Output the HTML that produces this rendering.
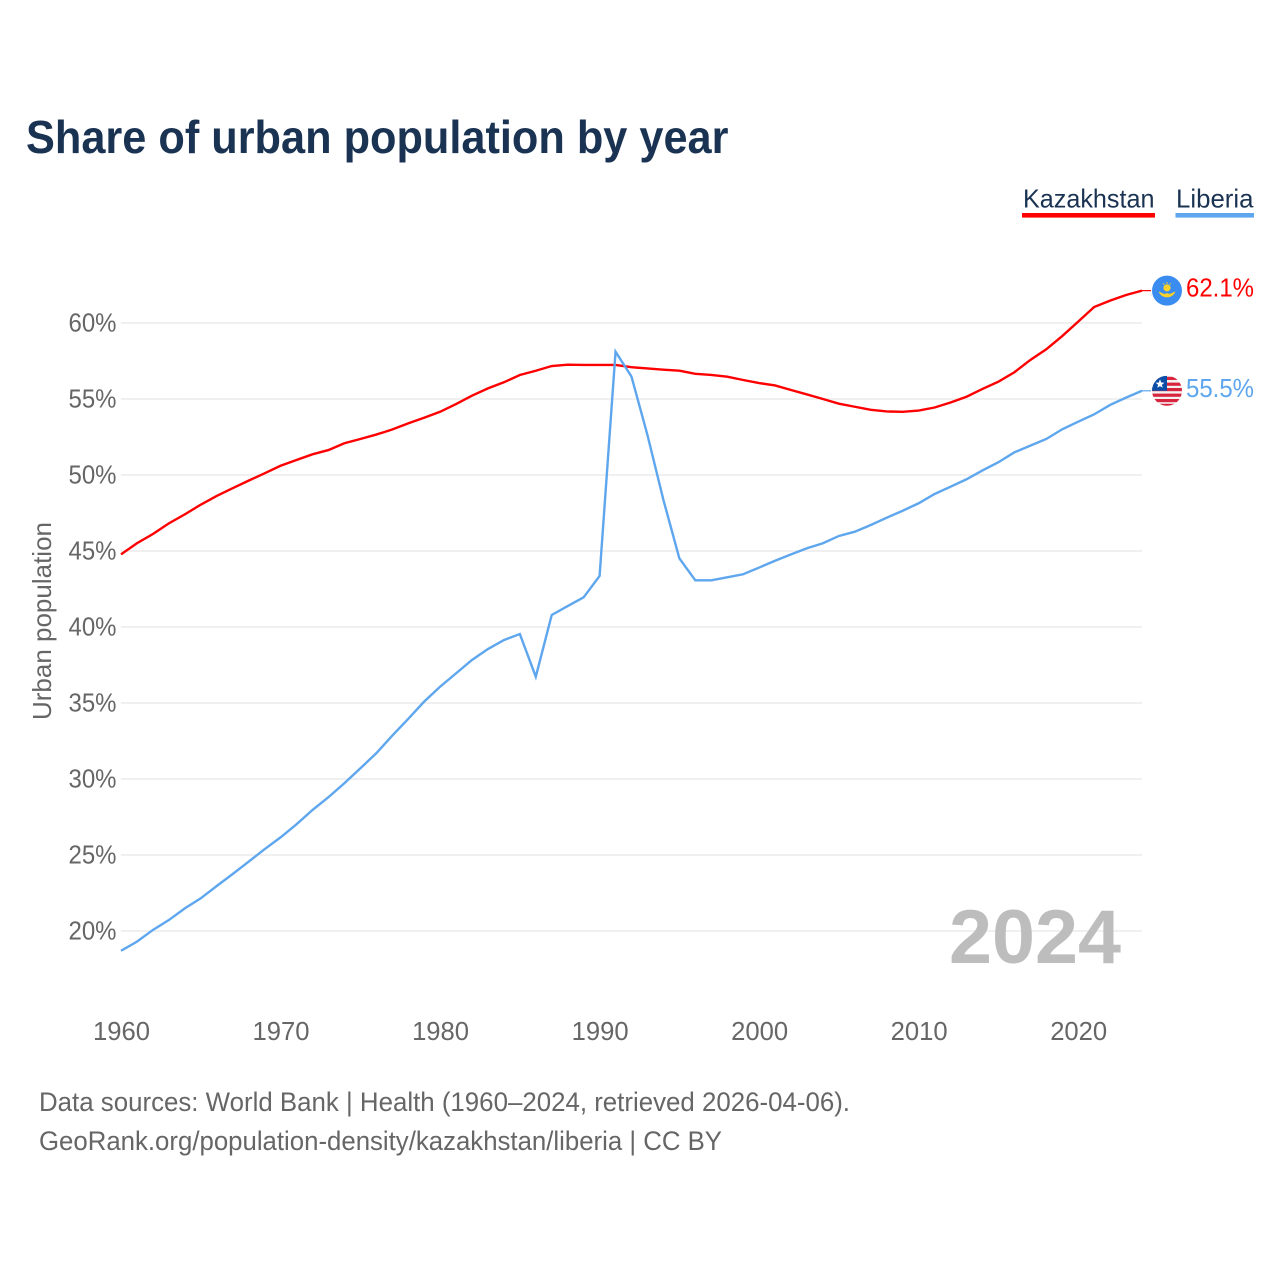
<!DOCTYPE html>
<html lang="en">
<head>
<meta charset="utf-8">
<title>Share of urban population by year</title>
<style>
html,body{margin:0;padding:0;background:#fff;}
svg{display:block;}
text{font-family:"Liberation Sans",sans-serif;}
</style>
</head>
<body>
<svg id="chart" xmlns="http://www.w3.org/2000/svg" width="1280" height="1280" viewBox="0 0 1280 1280">
  <rect x="0" y="0" width="1280" height="1280" fill="#ffffff"/>
  <text x="26" y="153" font-size="46" font-weight="700" fill="#1a3353" textLength="702.5" lengthAdjust="spacingAndGlyphs">Share of urban population by year</text>

  <g style="cursor:pointer">
    <text x="1023" y="207.5" font-size="26" fill="#1a3353" textLength="131.5" lengthAdjust="spacingAndGlyphs">Kazakhstan</text>
    <rect x="1022" y="213" width="133" height="4.6" fill="#ff0000"/>
  </g>
  <g style="cursor:pointer">
    <text x="1176" y="207.5" font-size="26" fill="#1a3353" textLength="77.5" lengthAdjust="spacingAndGlyphs">Liberia</text>
    <rect x="1175.5" y="213" width="78.5" height="4.6" fill="#5ea6ee"/>
  </g>

  <g id="grid"></g>
  <g id="y-ticks"></g>
  <g id="x-ticks"></g>

  <text transform="translate(51 720) rotate(-90)" x="0" y="0" font-size="26" fill="#666666" textLength="198" lengthAdjust="spacingAndGlyphs">Urban population</text>

  <text x="949" y="963" font-size="76" font-weight="700" fill="#bdbdbd" textLength="172" lengthAdjust="spacingAndGlyphs">2024</text>

  <g id="series"></g>

  <g id="flag-kazakhstan">
    <circle cx="0" cy="0" r="15" fill="#3a8cf0"/>
    <circle cx="0" cy="-2.8" r="3.6" fill="#fcd12a"/>
    <path d="M0,-8.6V-7M-3.6,-7.4L-2.8,-6.2M3.6,-7.4L2.8,-6.2" stroke="#fcd12a" stroke-width="1" fill="none"/>
    <path d="M-8.4,0.8C-6.4,1.6-4.8,2.8-2.6,3.2L0,2.6L2.6,3.2C4.8,2.8 6.4,1.6 8.4,0.8C7.2,4.2 4.4,6.6 0,6.8C-4.4,6.6-7.2,4.2-8.4,0.8Z" fill="#fcd12a"/>
  </g>

  <defs>
    <clipPath id="liberia-clip"><circle cx="0" cy="0" r="15"/></clipPath>
  </defs>
  <g id="flag-liberia" clip-path="url(#liberia-clip)">
    <rect x="-15" y="-15" width="30" height="30" fill="#f5f2f2"/>
    <rect x="-15" y="-14" width="30" height="3.2" fill="#d8253f"/>
    <rect x="-15" y="-8.2" width="30" height="3.2" fill="#d8253f"/>
    <rect x="-15" y="-2.8" width="30" height="3.2" fill="#d8253f"/>
    <rect x="-15" y="2.8" width="30" height="3.2" fill="#d8253f"/>
    <rect x="-15" y="8.2" width="30" height="3.2" fill="#d8253f"/>
    <rect x="-15" y="13" width="30" height="3.2" fill="#d8253f"/>
    <rect x="-15" y="-15" width="15" height="15" fill="#0b4ea8"/>
    <polygon points="-7,-11.5 -5.8,-8.3 -2.6,-8.1 -5.1,-6.1 -4.3,-3 -7,-4.7 -9.7,-3 -8.9,-6.1 -11.4,-8.1 -8.2,-8.3" fill="#ffffff"/>
  </g>

  <text id="value-kazakhstan" x="1186" font-size="26" fill="#ff0000" textLength="68" lengthAdjust="spacingAndGlyphs"></text>
  <text id="value-liberia" x="1186" font-size="26" fill="#5ea6ee" textLength="68" lengthAdjust="spacingAndGlyphs"></text>

  <text x="39" y="1111" font-size="27" fill="#666666" textLength="811" lengthAdjust="spacingAndGlyphs">Data sources: World Bank | Health (1960–2024, retrieved 2026-04-06).</text>
  <text x="39" y="1150" font-size="27" fill="#666666" textLength="683" lengthAdjust="spacingAndGlyphs">GeoRank.org/population-density/kazakhstan/liberia | CC BY</text>
</svg>

<script>
const firstYear = 1960;
const kazakhstan = [44.78,45.51,46.12,46.82,47.41,48.05,48.62,49.13,49.63,50.11,50.61,50.99,51.36,51.64,52.09,52.37,52.66,52.99,53.40,53.77,54.16,54.67,55.22,55.70,56.10,56.58,56.86,57.17,57.26,57.24,57.24,57.24,57.09,57.01,56.93,56.86,56.66,56.58,56.47,56.25,56.05,55.89,55.59,55.30,55.00,54.69,54.49,54.29,54.18,54.16,54.24,54.44,54.77,55.15,55.66,56.14,56.76,57.57,58.27,59.14,60.09,61.05,61.47,61.84,62.13];
const liberia = [18.70,19.30,20.07,20.72,21.49,22.15,22.96,23.75,24.56,25.38,26.16,27.02,27.96,28.80,29.72,30.70,31.69,32.85,33.95,35.09,36.07,36.95,37.83,38.55,39.14,39.54,36.73,40.79,41.38,41.95,43.36,58.11,56.47,52.63,48.36,44.52,43.07,43.07,43.27,43.47,43.91,44.36,44.78,45.18,45.51,45.99,46.27,46.71,47.19,47.65,48.14,48.75,49.23,49.72,50.30,50.84,51.49,51.93,52.37,53.01,53.51,53.99,54.61,55.09,55.54];
const yTicks = [20,25,30,35,40,45,50,55,60];
const xTicks = [1960,1970,1980,1990,2000,2010,2020];

const NS = 'http://www.w3.org/2000/svg';
const xAxis = function (year) { return 121 + (year - 1960) * (1142 - 121) / 64; };
const yAxis = function (pct) { return 931 - (pct - 20) * 15.2; };

function make(tag, parent, attrs, content) {
  const el = document.createElementNS(NS, tag);
  Object.keys(attrs).forEach(function (k) { el.setAttribute(k, attrs[k]); });
  if (content !== undefined) el.textContent = content;
  parent.appendChild(el);
  return el;
}

const gridGroup = document.getElementById('grid');
const yTickGroup = document.getElementById('y-ticks');
const xTickGroup = document.getElementById('x-ticks');
const seriesGroup = document.getElementById('series');

yTicks.forEach(function (t) {
  const line = make('line', gridGroup, { x1: 121, x2: 1142, y1: yAxis(t), y2: yAxis(t), stroke: '#ececec', 'stroke-width': 1.6 });
  
  
  const label = make('text', yTickGroup, { x: 68.5, y: yAxis(t) + 8.5, 'font-size': 26, fill: '#666666', textLength: 48, lengthAdjust: 'spacingAndGlyphs' }, t + '%');
  
  
});

xTicks.forEach(function (t) {
  const label = make('text', xTickGroup, { x: xAxis(t) - 28, y: 1040, 'font-size': 26, fill: '#666666', textLength: 57, lengthAdjust: 'spacingAndGlyphs' }, String(t));
  
  
});

function linePath(values) {
  return values.map(function (v, i) {
    return (i ? 'L' : 'M') + xAxis(firstYear + i).toFixed(2) + ',' + yAxis(v).toFixed(2);
  }).join(' ');
}

function lastY(values) { return yAxis(values[values.length - 1]); }
function lastX(values) { return xAxis(firstYear + values.length - 1); }

const kzLine = make('path', seriesGroup, { d: linePath(kazakhstan), fill: 'none', stroke: '#ff0000', 'stroke-width': 2.4 });


const kzLead = make('line', seriesGroup, { x1: lastX(kazakhstan), x2: 1151, y1: lastY(kazakhstan), y2: lastY(kazakhstan), stroke: '#ff0000', 'stroke-width': 1.2 });



const lbLine = make('path', seriesGroup, { d: linePath(liberia), fill: 'none', stroke: '#5ea6ee', 'stroke-width': 2.4 });


const lbLead = make('line', seriesGroup, { x1: lastX(liberia), x2: 1151, y1: lastY(liberia), y2: lastY(liberia), stroke: '#5ea6ee', 'stroke-width': 1.2 });



document.getElementById('flag-kazakhstan').setAttribute('transform', 'translate(1167 ' + lastY(kazakhstan) + ')');
document.getElementById('flag-liberia').setAttribute('transform', 'translate(1167 ' + lastY(liberia) + ')');

const kzValue = document.getElementById('value-kazakhstan');
kzValue.setAttribute('y', lastY(kazakhstan) + 6);
kzValue.textContent = kazakhstan[kazakhstan.length - 1].toFixed(1) + '%';
const lbValue = document.getElementById('value-liberia');
lbValue.setAttribute('y', lastY(liberia) + 6);
lbValue.textContent = liberia[liberia.length - 1].toFixed(1) + '%';
</script>
</body>
</html>
